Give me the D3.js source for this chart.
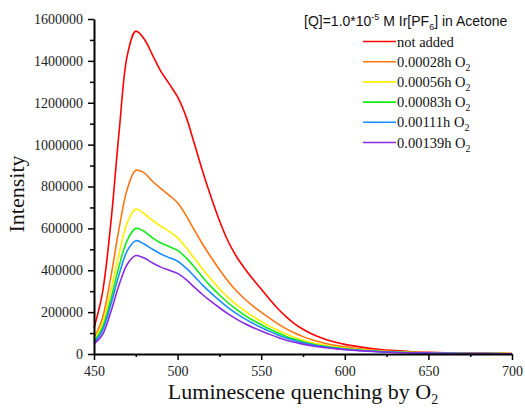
<!DOCTYPE html>
<html>
<head>
<meta charset="utf-8">
<script src="https://cdn.jsdelivr.net/npm/d3@7"></script>
<style>
  html, body { margin: 0; padding: 0; background: #fff; }
  svg { display: block; }
  .tick text { font-family: 'Liberation Serif', 'Times New Roman', serif; }
</style>
</head>
<body>
<svg id="chart" width="525" height="410"></svg>
<script>
// ---- data ----
const wavelengths = [450,455,460,465,470,475,480,485,490,495,500,505,510,515,520,525,530,535,540,545,550,555,560,565,570,575,580,585,590,595,600,610,620,630,640,650,660,670,680,690,700];
const seriesNames = ["not added", "0.00028h O", "0.00056h O", "0.00083h O", "0.00111h O", "0.00139h O"];
const notAdded = [124000,290000,620000,1060000,1430000,1542000,1505000,1428000,1350000,1290000,1228000,1135000,1005000,872000,750000,638000,542000,468000,410000,358000,310000,262000,216000,177000,144000,118000,97000,80000,66000,55000,46000,33000,23000,16000,11000,8000,6000,4500,3500,3000,2500];
const o2_00028 = [75000,170000,365000,600000,790000,878000,865000,825000,790000,758000,722000,662000,592000,524000,462000,404000,350000,303000,264000,230000,200000,171000,144000,120000,100000,83000,69000,57000,48000,40000,34000,24000,17000,12000,8500,6000,4500,3500,3000,2500,2000];
const o2_00056 = [67000,145000,300000,480000,630000,692000,670000,638000,610000,585000,555000,510000,457000,405000,357000,312000,272000,237000,207000,180000,156000,133000,113000,95000,79000,66000,55000,46000,39000,33000,28000,20000,14000,10000,7000,5000,4000,3000,2500,2000,1500];
const o2_00083 = [59000,125000,260000,420000,545000,600000,585000,555000,530000,513000,495000,460000,416000,367000,322000,282000,246000,214000,186000,161000,140000,119000,100000,84000,70000,59000,49000,41000,35000,29500,25000,18000,12500,9000,6500,4500,3500,2800,2200,1800,1500];
const o2_00111 = [54000,112000,235000,380000,495000,541000,525000,500000,478000,460000,443000,411000,371000,329000,291000,256000,223000,194000,169000,147000,127000,108000,91000,76000,64000,54000,45000,38000,32000,27000,23000,16500,11500,8000,6000,4200,3200,2500,2000,1600,1400];
const o2_00139 = [48000,92000,200000,330000,430000,470000,458000,435000,415000,400000,385000,356000,319000,283000,251000,221000,193000,168000,146000,127000,110000,94000,79000,66000,56000,47000,40000,34000,29000,24500,21000,15000,10500,7500,5500,4000,3000,2400,1900,1500,1200];
const xTicks = [450, 500, 550, 600, 650, 700];
const xMinorTicks = [475, 525, 575, 625, 675];
const yTicks = [0, 200000, 400000, 600000, 800000, 1000000, 1200000, 1400000, 1600000];
const yMinorTicks = [100000, 300000, 500000, 700000, 900000, 1100000, 1300000, 1500000];

const seriesValues = [notAdded, o2_00028, o2_00056, o2_00083, o2_00111, o2_00139];
const colors = ["#ff0000", "#ff7410", "#ffee00", "#11ee11", "#1a8cff", "#8a2be2"];

// ---- layout ----
const svg = d3.select("#chart");
const x = d3.scaleLinear().domain([450, 700]).range([94, 512]);
const y = d3.scaleLinear().domain([0, 1600000]).range([354, 19]);

const line = d3.line()
  .x((d, i) => x(wavelengths[i]))
  .y(d => y(d))
  .curve(d3.curveCatmullRom.alpha(0.5));

svg.append("g").selectAll("path")
  .data(seriesValues)
  .join("path")
  .attr("d", d => line(d))
  .attr("fill", "none")
  .attr("stroke", (d, i) => colors[i])
  .attr("stroke-width", 1.6)
  .attr("stroke-linejoin", "round");

// axes
const serif = "'Liberation Serif', 'Times New Roman', serif";
const gx = svg.append("g").attr("transform", "translate(0,354)")
  .call(d3.axisBottom(x).tickValues(xTicks).tickSize(6).tickPadding(6).tickSizeOuter(0));
svg.append("g").attr("transform", "translate(0,354)")
  .call(d3.axisBottom(x).tickValues(xMinorTicks).tickSize(3).tickFormat("").tickSizeOuter(0))
  .call(g => g.select(".domain").remove())
  .call(g => g.selectAll("text").remove());
const gy = svg.append("g").attr("transform", "translate(94,0)")
  .call(d3.axisLeft(y).tickValues(yTicks).tickSize(6).tickPadding(5).tickFormat(d3.format("d")).tickSizeOuter(0));
svg.append("g").attr("transform", "translate(94,0)")
  .call(d3.axisLeft(y).tickValues(yMinorTicks).tickSize(4).tickFormat("").tickSizeOuter(0))
  .call(g => g.select(".domain").remove())
  .call(g => g.selectAll("text").remove());

[gx, gy].forEach(g => g.attr("font-family", serif).attr("font-size", 14));
svg.selectAll(".domain").attr("stroke", "#000").attr("stroke-width", 2);
svg.selectAll(".tick line").attr("stroke", "#000").attr("stroke-width", 1.5);
svg.selectAll(".tick text").attr("font-family", serif).attr("font-size", 14).attr("fill", "#222");

// axis titles
svg.append("text")
  .attr("transform", "translate(24,194) rotate(-90)")
  .attr("text-anchor", "middle")
  .attr("font-family", serif).attr("font-size", 22).attr("fill", "#111")
  .text("Intensity");

const xt = svg.append("text")
  .attr("x", 303).attr("y", 399)
  .attr("text-anchor", "middle")
  .attr("font-family", serif).attr("font-size", 22).attr("fill", "#111");
xt.append("tspan").text("Luminescene quenching by O");
xt.append("tspan").attr("font-size", 14).attr("dy", 5).text("2");

// legend title
const sans = "'Liberation Sans', Arial, sans-serif";
const lt = svg.append("text").attr("x", 304).attr("y", 26)
  .attr("font-family", sans).attr("font-size", 14).attr("fill", "#111");
lt.append("tspan").text("[Q]=1.0*10");
lt.append("tspan").attr("font-size", 9).attr("dy", -6).text("-5");
lt.append("tspan").attr("dy", 6).text(" M Ir[PF");
lt.append("tspan").attr("font-size", 9).attr("dy", 4).text("6");
lt.append("tspan").attr("dy", -4).text("] in Acetone");

// legend entries
const leg = svg.append("g");
seriesNames.forEach((name, i) => {
  const cy = 41.5 + i * 20.2;
  leg.append("line")
    .attr("x1", 363).attr("x2", 396).attr("y1", cy).attr("y2", cy)
    .attr("stroke", colors[i]).attr("stroke-width", 1.6);
  const t = leg.append("text").attr("x", 397).attr("y", cy + 5)
    .attr("font-family", serif).attr("font-size", 14.5).attr("fill", "#111");
  t.append("tspan").text(name);
  if (i > 0) t.append("tspan").attr("font-size", 10).attr("dy", 4).text("2");
});
</script>
</body>
</html>
